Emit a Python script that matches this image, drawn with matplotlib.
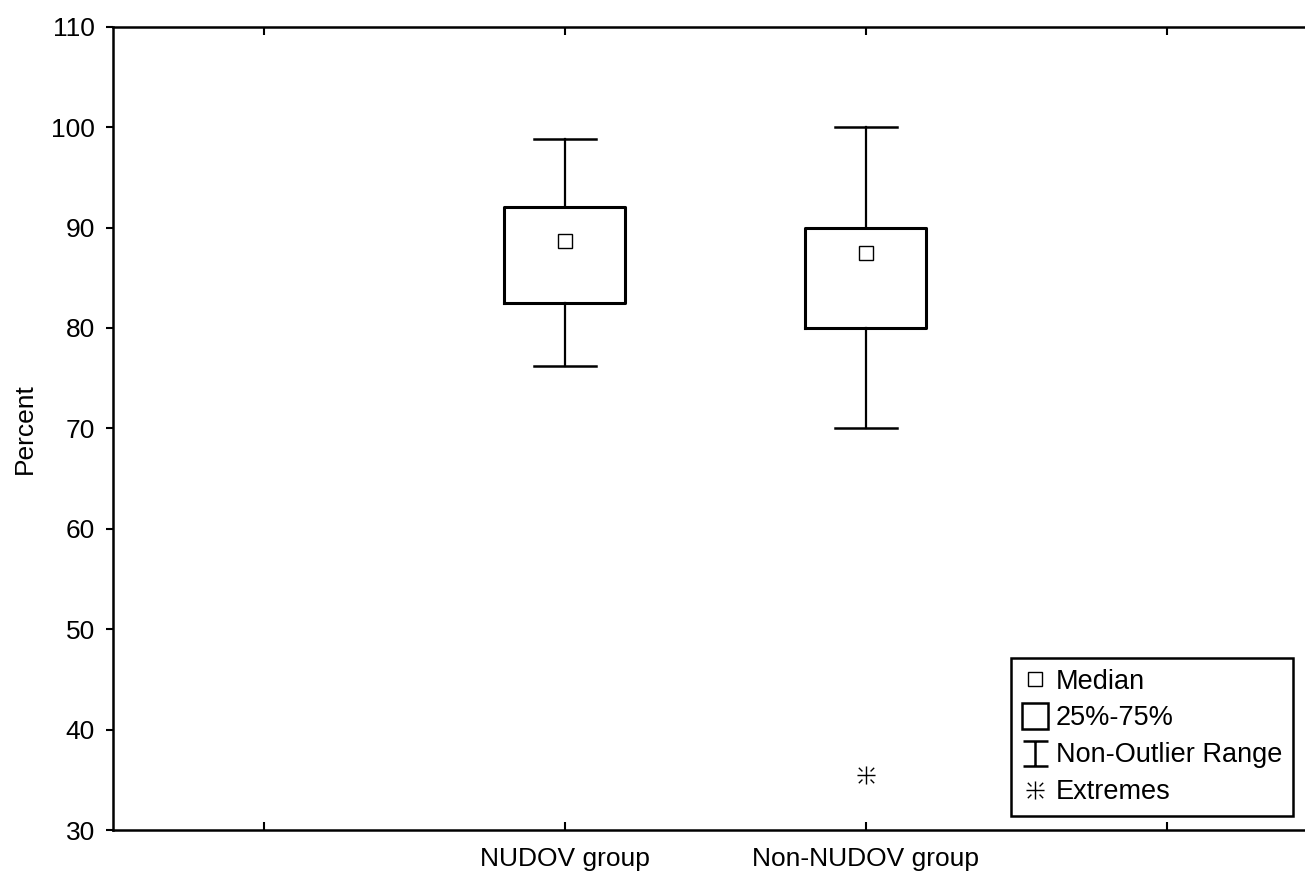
import matplotlib
matplotlib.use("Agg")
import matplotlib.pyplot as plt
from matplotlib.path import Path
from matplotlib.lines import Line2D

plt.rcParams['font.family'] = ['Liberation Sans', 'DejaVu Sans']

# data
groups = ['NUDOV group', 'Non-NUDOV group']
medians = [88.7, 87.5]
q1 = [82.5, 80.0]
q3 = [92.0, 90.0]
whis_lo = [76.2, 70.0]
whis_hi = [98.8, 100.0]
extremes = [[], [35.5]]

tick_pos = [0.5, 1.5, 2.5, 3.5]
tick_labels = ['', groups[0], groups[1], '']
box_pos = [1.5, 2.5]

# marker shapes: statistica style asterisk and the I-bar for the legend
star_path = Path(
    [(0, -1), (0, 1), (-1, 0), (1, 0),
     (0.45, 0.45), (0.85, 0.85), (-0.45, 0.45), (-0.85, 0.85),
     (0.45, -0.45), (0.85, -0.85), (-0.45, -0.45), (-0.85, -0.85)],
    [Path.MOVETO, Path.LINETO] * 6)
ibar_path = Path(
    [(-1, 1), (1, 1), (0, 1), (0, -1), (-1, -1), (1, -1)],
    [Path.MOVETO, Path.LINETO] * 3)

fig = plt.figure(figsize=(13.05, 8.76), dpi=100)
ax = fig.add_axes([0.0866, 0.0525, 0.9226, 0.917])

stats = []
for i in range(len(groups)):
    stats.append(dict(med=medians[i], mean=medians[i], q1=q1[i], q3=q3[i],
                      whislo=whis_lo[i], whishi=whis_hi[i], fliers=extremes[i]))

ax.bxp(stats, positions=box_pos, widths=0.405, capwidths=0.206,
       showmeans=True, meanline=False,
       boxprops=dict(color='black', linewidth=2.2),
       whiskerprops=dict(color='black', linewidth=1.6),
       capprops=dict(color='black', linewidth=1.8),
       medianprops=dict(linewidth=0),
       meanprops=dict(marker='s', markersize=10, markerfacecolor='white',
                      markeredgecolor='black', markeredgewidth=1.0),
       flierprops=dict(marker=star_path, markersize=13, markeredgecolor='black',
                       markeredgewidth=1.0, linestyle='none'))

ax.set_xlim(0, 4)
ax.set_ylim(30, 110)
ax.set_xticks(tick_pos)
ax.set_xticklabels(tick_labels)
ax.set_yticks(range(30, 111, 10))
ax.tick_params(axis='x', direction='in', top=True, length=6, width=1.5,
               labelsize=19, pad=12)
ax.tick_params(axis='y', direction='out', length=5, width=1.5, labelsize=19, pad=8)
for s in ax.spines.values():
    s.set_linewidth(1.8)
ax.spines['right'].set_visible(False)
ax.set_ylabel('Percent', fontsize=19, labelpad=10)

handles = [
    Line2D([], [], marker='s', markersize=10, markerfacecolor='white',
           markeredgecolor='black', markeredgewidth=1.0, linestyle='none'),
    Line2D([], [], marker='s', markersize=19, markerfacecolor='white',
           markeredgecolor='black', markeredgewidth=1.8, linestyle='none'),
    Line2D([], [], marker=ibar_path, markersize=18, markeredgecolor='black',
           markeredgewidth=1.8, linestyle='none'),
    Line2D([], [], marker=star_path, markersize=13, markeredgecolor='black',
           markeredgewidth=1.0, linestyle='none'),
]
labels = ['Median', '25%-75%', 'Non-Outlier Range', 'Extremes']
leg = ax.legend(handles, labels, loc='lower right',
                bbox_to_anchor=(0.9908, 0.0685), bbox_transform=fig.transFigure,
                fontsize=19.5, fancybox=False, framealpha=1, edgecolor='black',
                handlelength=1.0, handletextpad=0.25, labelspacing=0.4,
                borderpad=0.4, borderaxespad=0)
leg.get_frame().set_linewidth(1.8)

fig.savefig('out.png', dpi=100)
